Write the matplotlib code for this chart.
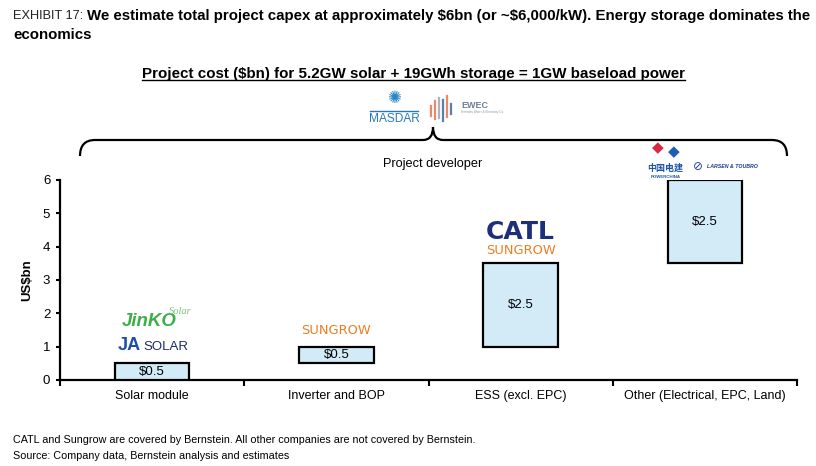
import matplotlib
matplotlib.use("Agg")
import matplotlib.pyplot as plt
from matplotlib.path import Path
from matplotlib.patches import PathPatch
from matplotlib.lines import Line2D

# ---------------- data ----------------
categories = ["Solar module", "Inverter and BOP", "ESS (excl. EPC)", "Other (Electrical, EPC, Land)"]
costs = [0.5, 0.5, 2.5, 2.5]
bar_labels = ["\\$0.5", "\\$0.5", "\\$2.5", "\\$2.5"]
y_ticks = [0, 1, 2, 3, 4, 5, 6]

W, H = 816, 466
fig = plt.figure(figsize=(W / 100, H / 100), dpi=100)
fig.patch.set_facecolor("white")
renderer = fig.canvas.get_renderer()

def fx(x):
    return x / W

def fy(y):
    return 1 - y / H

def fit(t, target_px):
    for _ in range(3):
        w = t.get_window_extent(renderer).width
        t.set_fontsize(t.get_fontsize() * target_px / w)

ax = fig.add_axes([fx(60), fy(380), fx(797) - fx(60), fy(180) - fy(380)])

# waterfall bases
bases = []
run = 0.0
for c in costs:
    bases.append(run)
    run += c

xpos = list(range(len(categories)))
ax.bar(xpos, costs, bottom=bases, width=0.405, color="#d3ebf7",
       edgecolor="black", linewidth=1.6, zorder=3)
for x, b, c, lab in zip(xpos, bases, costs, bar_labels):
    ax.text(x, b + c / 2, lab, ha="center", va="center", fontsize=9.5,
            family="Liberation Sans", zorder=4)

ax.set_xlim(-0.5, len(categories) - 0.5)
ax.set_ylim(0, 6)
ax.set_yticks(y_ticks)
ax.set_yticklabels([str(t) for t in y_ticks], family="Liberation Sans", fontsize=9.5)
ax.set_xticks([i - 0.5 for i in range(len(categories) + 1)])
ax.set_xticklabels([])
ax.set_xticks(xpos, minor=True)
ax.set_xticklabels(categories, minor=True, family="Liberation Sans", fontsize=9)
ax.tick_params(axis="x", which="minor", length=0, pad=7)
ax.tick_params(axis="x", which="major", length=4, width=1.5, direction="out")
ax.tick_params(axis="y", length=3, width=1.5, direction="out", pad=4)
for s in ["top", "right"]:
    ax.spines[s].set_visible(False)
for s in ["left", "bottom"]:
    ax.spines[s].set_linewidth(1.6)
ax.set_ylabel("US\\$bn", fontsize=9.5, fontweight="bold", family="Liberation Sans", labelpad=7)

# ---------------- titles ----------------
t1 = fig.text(fx(13), fy(16), "EXHIBIT 17:", fontsize=10.5, family="Liberation Sans",
              color="#222222", va="center", ha="left")
fit(t1, 70)
t2 = fig.text(fx(87), fy(16),
              "We estimate total project capex at approximately \\$6bn (or ~\\$6,000/kW). Energy storage dominates the",
              fontsize=10.5, family="Liberation Sans", fontweight="bold", va="center", ha="left")
fit(t2, 720)
t3 = fig.text(fx(13), fy(35), "economics", fontsize=t2.get_fontsize(), family="Liberation Sans",
              fontweight="bold", va="center", ha="left")

sub = fig.text(fx(413), fy(74),
               "Project cost (\\$bn) for 5.2GW solar + 19GWh storage = 1GW baseload power",
               fontsize=10.5, family="Liberation Sans", fontweight="bold",
               va="center", ha="center")
fit(sub, 540)
bb = sub.get_window_extent(renderer).transformed(fig.transFigure.inverted())
fig.add_artist(Line2D([bb.x0, bb.x1], [bb.y0 + 0.002, bb.y0 + 0.002],
                      transform=fig.transFigure, color="black", linewidth=1.0))

# ---------------- bracket ----------------
pts = [(80, 156), (80, 140), (95, 140), (423, 140), (433, 140), (433, 127),
       (433, 140), (443, 140), (772, 140), (787, 140), (787, 156)]
codes = [Path.MOVETO, Path.CURVE3, Path.CURVE3, Path.LINETO, Path.CURVE3, Path.CURVE3,
         Path.CURVE3, Path.CURVE3, Path.LINETO, Path.CURVE3, Path.CURVE3]
path = Path([(fx(x), fy(y)) for x, y in pts], codes)
fig.add_artist(PathPatch(path, transform=fig.transFigure, facecolor="none",
                         edgecolor="black", linewidth=1.6))
fig.text(fx(433), fy(164), "Project developer", fontsize=9.2, family="Liberation Sans",
         ha="center", va="center")

# ---------------- developer logos (text approximations) ----------------
fig.text(fx(394), fy(98), "✺", fontsize=12, color="#2a86c4", ha="center", va="center",
         family="DejaVu Sans")
m = fig.text(fx(394), fy(119), "MASDAR", fontsize=7, color="#2a7ab8", ha="center", va="center",
             family="Liberation Sans")
fit(m, 51)
fig.add_artist(Line2D([fx(370), fx(418)], [fy(111), fy(111)], transform=fig.transFigure,
                      color="#2a7ab8", linewidth=1.0))
ewec_x = [431, 435, 439, 443, 447, 451]
ewec_top = [106, 101, 98, 100, 96, 104]
ewec_bot = [116, 119, 118, 121, 117, 114]
ewec_col = ["#e8896a", "#e8896a", "#aab4c0", "#5a7fa8", "#e8896a", "#5a7fa8"]
for xx, t, b, c in zip(ewec_x, ewec_top, ewec_bot, ewec_col):
    fig.add_artist(Line2D([fx(xx), fx(xx)], [fy(t), fy(b)], transform=fig.transFigure,
                          color=c, linewidth=1.6))
fig.text(fx(461), fy(106), "EWEC", fontsize=6.5, fontweight="bold", color="#6d7f95",
         ha="left", va="center", family="Liberation Sans")
fig.text(fx(461), fy(112), "Emirates Water & Electricity Co.", fontsize=2.2, color="#8a97a8",
         ha="left", va="center", family="Liberation Sans")

# ---------------- supplier logos ----------------
j = ax.text(-0.015, 1.74, "JinKO", fontsize=13.5, fontweight="bold", style="italic",
            color="#3cae49", ha="center", va="center", family="Liberation Sans", clip_on=False)
fit(j, 55)
ax.text(0.155, 2.07, "Solar", fontsize=7.5, style="italic", color="#7cc47f",
        ha="center", va="center", family="Liberation Serif", clip_on=False)
ax.text(-0.062, 1.02, "JA", fontsize=13, fontweight="bold", color="#1d4fa3",
        ha="right", va="center", family="Liberation Sans", clip_on=False)
s = ax.text(-0.048, 1.0, "SOLAR", fontsize=10, color="#1e2a6b",
            ha="left", va="center", family="Liberation Sans", clip_on=False)
fit(s, 45)
sg1 = ax.text(1.0, 1.47, "SUNGROW", fontsize=9.5, color="#f07c22",
              ha="center", va="center", family="DejaVu Sans", clip_on=False)
fit(sg1, 70)
c = ax.text(2.0, 4.44, "CATL", fontsize=15, fontweight="bold", color="#1d2f7a",
            ha="center", va="center", family="DejaVu Sans", clip_on=False)
fit(c, 69)
sg2 = ax.text(2.0, 3.9, "SUNGROW", fontsize=9.5, color="#f07c22",
              ha="center", va="center", family="DejaVu Sans", clip_on=False)
fit(sg2, 70)

# PowerChina
ax.text(2.745, 6.98, "◆", fontsize=11, color="#d62a45", ha="center", va="center",
        family="DejaVu Sans", clip_on=False)
ax.text(2.83, 6.86, "◆", fontsize=11, color="#1f5fb0", ha="center", va="center",
        family="DejaVu Sans", clip_on=False)
ax.text(2.785, 6.36, "中国电建", fontsize=6.5, fontweight="bold", color="#1f56a8",
        ha="center", va="center", family=["Noto Sans CJK SC", "DejaVu Sans"], clip_on=False)
ax.text(2.785, 6.1, "POWERCHINA", fontsize=3.2, fontweight="bold", color="#1f56a8",
        ha="center", va="center", family="Liberation Sans", clip_on=False)
# Larsen & Toubro
ax.text(2.96, 6.4, "⊘", fontsize=8.5, color="#1e3d8f", ha="center", va="center",
        family="DejaVu Sans", clip_on=False)
lt = ax.text(3.01, 6.4, "LARSEN & TOUBRO", fontsize=4.3, style="italic", fontweight="bold",
             color="#1e3d8f", ha="left", va="center", family="Liberation Sans", clip_on=False)
fit(lt, 51)

# ---------------- footnotes ----------------
f1 = fig.text(fx(13), fy(440),
              "CATL and Sungrow are covered by Bernstein. All other companies are not covered by Bernstein.",
              fontsize=8, family="Liberation Sans", ha="left", va="center")
fit(f1, 464)
fig.text(fx(13), fy(456), "Source: Company data, Bernstein analysis and estimates",
         fontsize=f1.get_fontsize(), family="Liberation Sans", ha="left", va="center")

fig.savefig("out.png", dpi=100, facecolor="white")
